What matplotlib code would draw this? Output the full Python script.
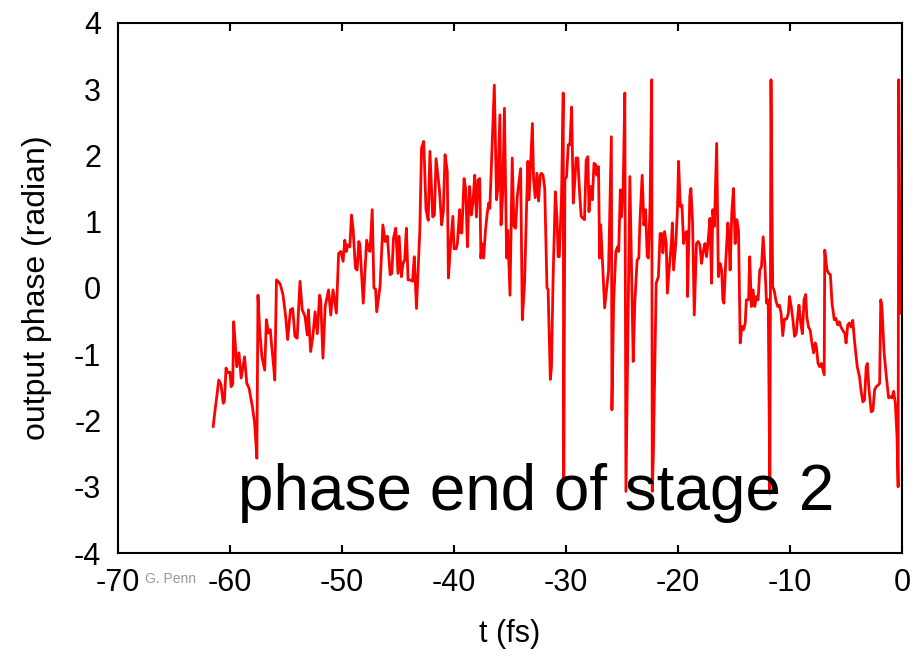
import matplotlib
matplotlib.use("Agg")
import matplotlib.pyplot as plt

plt.rcParams['font.family'] = ['Liberation Sans', 'DejaVu Sans']

t_fs = [-61.5, -61.4, -61.0, -60.8, -60.6, -60.5, -60.35, -60.2, -60.0, -59.9, -59.75, -59.67, -59.55, -59.4, -59.2, -59.0, -58.7, -58.5, -58.3, -58.0, -57.8, -57.6, -57.5, -57.35, -57.15, -56.9, -56.75, -56.57, -56.4, -56.3, -56.1, -56.0, -55.85, -55.7, -55.5, -55.26, -55.03, -54.85, -54.6, -54.4, -54.2, -54.0, -53.75, -53.55, -53.3, -53.1, -53.0, -52.8, -52.6, -52.4, -52.2, -52.0, -51.9, -51.7, -51.5, -51.2, -51.0, -50.8, -50.5, -50.3, -50.1, -49.9, -49.75, -49.6, -49.5, -49.3, -49.15, -49.0, -48.8, -48.65, -48.5, -48.4, -48.1, -47.8, -47.6, -47.5, -47.3, -47.15, -47.0, -46.9, -46.6, -46.35, -46.15, -45.95, -45.7, -45.55, -45.4, -45.2, -45.0, -44.9, -44.7, -44.55, -44.4, -44.25, -44.1, -43.9, -43.7, -43.55, -43.35, -43.05, -42.9, -42.7, -42.5, -42.3, -42.15, -41.9, -41.75, -41.6, -41.3, -41.1, -40.95, -40.8, -40.6, -40.5, -40.3, -40.1, -40.0, -39.8, -39.7, -39.5, -39.4, -39.3, -39.1, -38.95, -38.8, -38.7, -38.6, -38.45, -38.3, -38.15, -38.0, -37.85, -37.7, -37.6, -37.5, -37.35, -37.2, -37.05, -36.9, -36.8, -36.4, -36.2, -36.1, -35.9, -35.8, -35.65, -35.5, -35.3, -35.2, -35.0, -34.8, -34.65, -34.5, -34.35, -34.05, -33.9, -33.7, -33.5, -33.4, -33.3, -33.0, -32.9, -32.75, -32.6, -32.45, -32.3, -32.2, -32.05, -31.9, -31.7, -31.6, -31.4, -31.3, -31.15, -30.95, -30.8, -30.7, -30.6, -30.4, -30.25, -30.2, -30.1, -29.95, -29.8, -29.65, -29.5, -29.35, -29.2, -29.1, -28.95, -28.8, -28.65, -28.5, -28.35, -28.2, -28.05, -27.95, -27.8, -27.65, -27.5, -27.35, -27.25, -27.1, -27.0, -26.9, -26.55, -26.2, -25.95, -25.9, -25.75, -25.55, -25.4, -25.3, -25.15, -25.05, -24.9, -24.75, -24.65, -24.3, -24.0, -23.85, -23.65, -23.5, -23.4, -23.2, -23.05, -22.9, -22.75, -22.65, -22.5, -22.35, -22.3, -22.2, -21.95, -21.75, -21.6, -21.45, -21.35, -21.2, -21.05, -20.95, -20.75, -20.6, -20.5, -20.4, -20.2, -20.05, -19.95, -19.8, -19.65, -19.5, -19.35, -19.2, -19.15, -18.95, -18.85, -18.7, -18.55, -18.35, -18.2, -18.05, -17.9, -17.75, -17.6, -17.45, -17.3, -17.15, -17.0, -16.9, -16.75, -16.55, -16.4, -16.25, -16.1, -16.0, -15.9, -15.75, -15.55, -15.45, -15.35, -15.2, -15.05, -14.9, -14.75, -14.6, -14.45, -14.3, -14.15, -14.0, -13.9, -13.7, -13.6, -13.45, -13.3, -13.15, -13.0, -12.85, -12.7, -12.55, -12.4, -12.25, -12.1, -11.95, -11.8, -11.7, -11.55, -11.4, -11.25, -11.1, -10.95, -10.8, -10.65, -10.5, -10.3, -10.15, -10.05, -9.9, -9.75, -9.6, -9.45, -9.3, -9.2, -9.05, -8.9, -8.75, -8.6, -8.5, -8.35, -8.2, -8.05, -7.9, -7.75, -7.65, -7.5, -7.35, -7.2, -7.05, -6.95, -6.9, -6.7, -6.55, -6.4, -6.25, -6.05, -5.9, -5.75, -5.6, -5.45, -5.3, -5.1, -5.0, -4.85, -4.7, -4.55, -4.4, -4.25, -4.0, -3.8, -3.65, -3.5, -3.35, -3.2, -3.1, -2.95, -2.75, -2.6, -2.45, -2.3, -2.15, -2.0, -1.9, -1.8, -1.6, -1.4, -1.2, -1.05, -0.9, -0.75, -0.6, -0.45, -0.35, -0.3, -0.15]

phase_rad = [-2.09, -1.94, -1.39, -1.46, -1.74, -1.71, -1.21, -1.28, -1.27, -1.49, -1.45, -0.51, -0.79, -1.19, -0.98, -1.36, -1.04, -1.44, -1.51, -1.79, -2.04, -2.57, -0.11, -0.63, -1.04, -1.24, -0.48, -0.68, -0.63, -0.83, -1.19, -1.39, 0.12, 0.10, 0.05, -0.11, -0.43, -0.78, -0.33, -0.31, -0.73, -0.76, 0.10, -0.33, -0.43, -0.71, -0.33, -0.96, -0.73, -0.36, -0.69, -0.11, -0.18, -1.06, -0.28, -0.03, -0.41, -0.03, -0.38, 0.52, 0.55, 0.40, 0.72, 0.55, 0.65, 0.62, 1.10, 0.87, 0.30, 0.27, 0.70, 0.65, -0.23, 0.72, 0.57, 0.55, 1.18, 0.0, -0.02, -0.36, 0.03, 0.95, 0.70, 0.78, 0.20, 0.22, 0.75, 0.90, 0.22, 0.78, 0.17, 0.37, 0.42, 0.90, 0.12, 0.12, 0.10, 0.47, -0.31, 0.87, 2.11, 2.21, 1.18, 1.02, 2.06, 1.07, 1.10, 1.95, 1.48, 0.95, 1.16, 2.01, 1.76, 0.15, 0.67, 1.08, 0.59, 0.59, 0.67, 1.18, 0.83, 0.83, 1.65, 1.48, 0.62, 1.18, 1.53, 1.10, 1.30, 1.70, 1.07, 1.63, 1.65, 0.45, 0.67, 0.45, 0.85, 1.10, 1.28, 1.20, 3.06, 1.33, 1.48, 2.61, 0.95, 1.43, 2.71, 0.45, 0.87, -0.11, 1.96, 0.93, 0.90, 1.38, 1.80, -0.48, 0.07, 1.36, 1.91, 1.33, 2.48, 1.65, 1.36, 1.73, 1.31, 1.70, 1.73, 1.70, 1.50, 0.0, -0.02, -1.38, -1.2, 0.17, 1.45, 1.03, 0.47, 0.47, 1.38, 2.94, -2.92, 1.63, 1.68, 2.16, 2.16, 2.73, 1.28, 1.65, 1.96, 1.96, 1.48, 1.08, 1.05, 1.03, 1.93, 1.98, 1.15, 1.53, 1.33, 1.88, 1.86, 1.70, 1.83, 0.45, 0.95, -0.3, 0.27, 2.28, -1.84, -0.23, 0.55, 0.62, 0.55, 1.48, 1.07, 1.48, 2.94, -3.07, 1.68, -1.11, -0.2, 0.42, 0.45, 1.0, 1.70, 0.95, 1.18, 0.48, 0.45, 1.23, 3.14, -3.07, -2.5, 0.07, 0.17, 0.82, 0.82, 0.53, 0.85, 0.67, -0.08, 0.37, 0.67, 0.98, 0.27, 0.67, 1.18, 1.91, 1.23, 1.25, 0.67, 0.83, 0.85, -0.13, 1.38, 1.50, 0.98, -0.41, 0.67, 0.70, 0.65, 0.37, 0.55, 0.67, 0.47, 0.73, 1.05, 0.07, 1.18, 0.93, 2.18, 0.17, 0.37, 0.27, -0.18, -0.23, 0.37, 0.98, 0.77, 0.27, 1.13, 1.50, 0.67, 1.03, 0.87, -0.83, -0.58, -0.63, -0.53, -0.18, -0.18, 0.47, -0.28, -0.03, -0.28, -0.13, -0.18, 0.27, 0.32, 0.77, 0.37, -0.23, -0.18, -3.10, 3.14, 0.02, -0.05, -0.2, -0.28, -0.26, -0.38, -0.72, -0.47, -0.47, -0.38, -0.13, -0.28, -0.47, -0.73, -0.69, -0.41, -0.26, -0.52, -0.69, -0.18, -0.1, -0.44, -0.59, -0.64, -0.83, -0.98, -0.83, -0.88, -1.14, -1.19, -1.14, -1.24, -1.31, 0.57, 0.27, 0.22, 0.2, -0.23, -0.48, -0.46, -0.56, -0.51, -0.59, -0.64, -0.69, -0.83, -0.56, -0.53, -0.59, -0.49, -0.79, -1.19, -1.34, -1.56, -1.72, -1.69, -1.19, -1.14, -1.54, -1.87, -1.85, -1.54, -1.49, -1.47, -1.44, -0.18, -0.28, -0.98, -1.34, -1.66, -1.64, -1.66, -1.56, -1.74, -2.24, -3.0, 3.14, -0.38]

x_ticks = [-70, -60, -50, -40, -30, -20, -10, 0]
y_ticks = [-4, -3, -2, -1, 0, 1, 2, 3, 4]

fig = plt.figure(figsize=(9.13, 6.51), dpi=100)
ax = fig.add_axes([0.1292, 0.1505, 0.988 - 0.1292, 0.965 - 0.1505])
ax.plot(t_fs, phase_rad, color='#ff0000', lw=2.0)
ax.set_xlim(-70, 0)
ax.set_ylim(-4, 4)
ax.set_xticks(x_ticks)
ax.set_xticklabels([str(v) for v in x_ticks])
ax.set_yticks(y_ticks)
ax.set_yticklabels([str(v) for v in y_ticks])
ax.tick_params(axis='x', direction='in', length=5.5, width=1.5, top=True, bottom=True,
               labelsize=22, pad=11)
ax.tick_params(axis='y', length=0, labelsize=22, pad=12)
for s in ax.spines.values():
    s.set_linewidth(1.5)
ax.set_xlabel('t (fs)', fontsize=22, labelpad=15)
ax.set_ylabel('output phase (radian)', fontsize=23, labelpad=16)
ax.text(-59.3, -3.35, 'phase end of stage 2', fontsize=46, ha='left', va='baseline')
fig.text(0.159, 0.110, 'G. Penn', fontsize=10, color='#999999', ha='left', va='center')
fig.savefig('out.png', dpi=100)
